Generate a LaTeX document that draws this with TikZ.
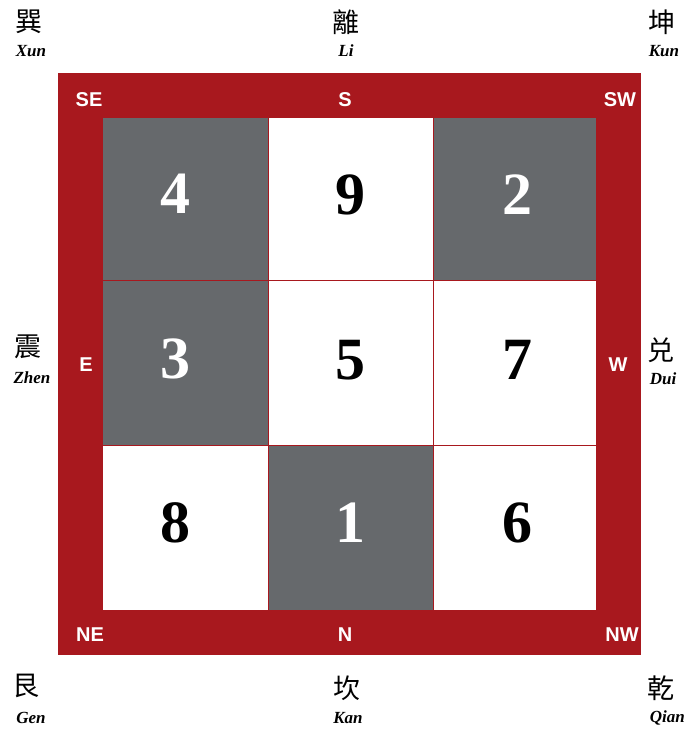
\documentclass[tikz,border=0pt]{standalone}
\usepackage{fontspec}
\setmainfont{Liberation Serif}
\setsansfont{Liberation Sans}
\newfontfamily\cjk{Noto Sans CJK SC}
\usepackage{xcolor}
\usepackage{tikz}
\definecolor{rosso}{HTML}{A8181E}
\definecolor{grigio}{HTML}{66696C}
\tikzset{
    numero/.style={font=\fontsize{60}{60}\selectfont\bfseries},
    direzione/.style={text=white,font=\fontsize{20}{20}\selectfont\sffamily\bfseries},
    trigramma/.style={font=\fontsize{27}{27}\selectfont\cjk},
    pinyin/.style={font=\fontsize{17}{17}\selectfont\bfseries\itshape}
}
\begin{document}
\begin{tikzpicture}[x=1pt,y=-1pt,inner sep=0pt]

                        \useasboundingbox (0,0) rectangle (686,732); % Margini

                            % Cornice rossa
                        \fill[rosso] (58,73) rectangle (641,655);

                            % Caselle
                        \fill[grigio] (103,118) rectangle (268,280);  % 4
                        \fill[white]  (268,118) rectangle (433,280);  % 9
                        \fill[grigio] (433,118) rectangle (596,280);  % 2
                        \fill[grigio] (103,280) rectangle (268,445);  % 3
                        \fill[white]  (268,280) rectangle (433,445);  % 5
                        \fill[white]  (433,280) rectangle (596,445);  % 7
                        \fill[white]  (103,445) rectangle (268,610);  % 8
                        \fill[grigio] (268,445) rectangle (433,610);  % 1
                        \fill[white]  (433,445) rectangle (596,610);  % 6

                            % Linee della griglia
                        \draw[rosso,line width=1pt] (268,118) -- (268,610);
                        \draw[rosso,line width=1pt] (433,118) -- (433,610);
                        \draw[rosso,line width=1pt] (103,280) -- (596,280);
                        \draw[rosso,line width=1pt] (103,445) -- (596,445);

                            % Numeri
                        \node[numero,white] (n4) at (175,194) {4};
                        \node[numero]       (n9) at (350,195) {9};
                        \node[numero,white] (n2) at (517,195) {2};
                        \node[numero,white] (n3) at (175,359) {3};
                        \node[numero]       (n5) at (350,360) {5};
                        \node[numero]       (n7) at (517,360) {7};
                        \node[numero]       (n8) at (175,523) {8};
                        \node[numero,white] (n1) at (350,523) {1};
                        \node[numero]       (n6) at (517,523) {6};

                            % Punti cardinali
                        \node[direzione] (se) at (89,100)  {SE};
                        \node[direzione] (s)  at (345,100) {S};
                        \node[direzione] (sw) at (620,100) {SW};
                        \node[direzione] (e)  at (86,365)  {E};
                        \node[direzione] (w)  at (618,365) {W};
                        \node[direzione] (ne) at (90,635)  {NE};
                        \node[direzione] (n)  at (345,635) {N};
                        \node[direzione] (nw) at (622,635) {NW};

                            % Trigrammi
                        \node[trigramma] (xun)  at (29,22)  {巽};
                        \node[pinyin]    (xunp) at (31,51)  {Xun};
                        \node[trigramma] (li)   at (346,22) {離};
                        \node[pinyin]    (lip)  at (346,51) {Li};
                        \node[trigramma] (kun)  at (662,22) {坤};
                        \node[pinyin]    (kunp) at (664,51) {Kun};
                        \node[trigramma] (zhen)  at (28,347) {震};
                        \node[pinyin]    (zhenp) at (32,378) {Zhen};
                        \node[trigramma] (dui)  at (661,350) {兑};
                        \node[pinyin]    (duip) at (663,379) {Dui};
                        \node[trigramma] (gen)  at (26,686)  {艮};
                        \node[pinyin]    (genp) at (31,718)  {Gen};
                        \node[trigramma] (kan)  at (347,688) {坎};
                        \node[pinyin]    (kanp) at (348,718) {Kan};
                        \node[trigramma] (qian)  at (661,688) {乾};
                        \node[pinyin,anchor=east] (qianp) at (685,718) {Qian};

\end{tikzpicture}
\end{document}
